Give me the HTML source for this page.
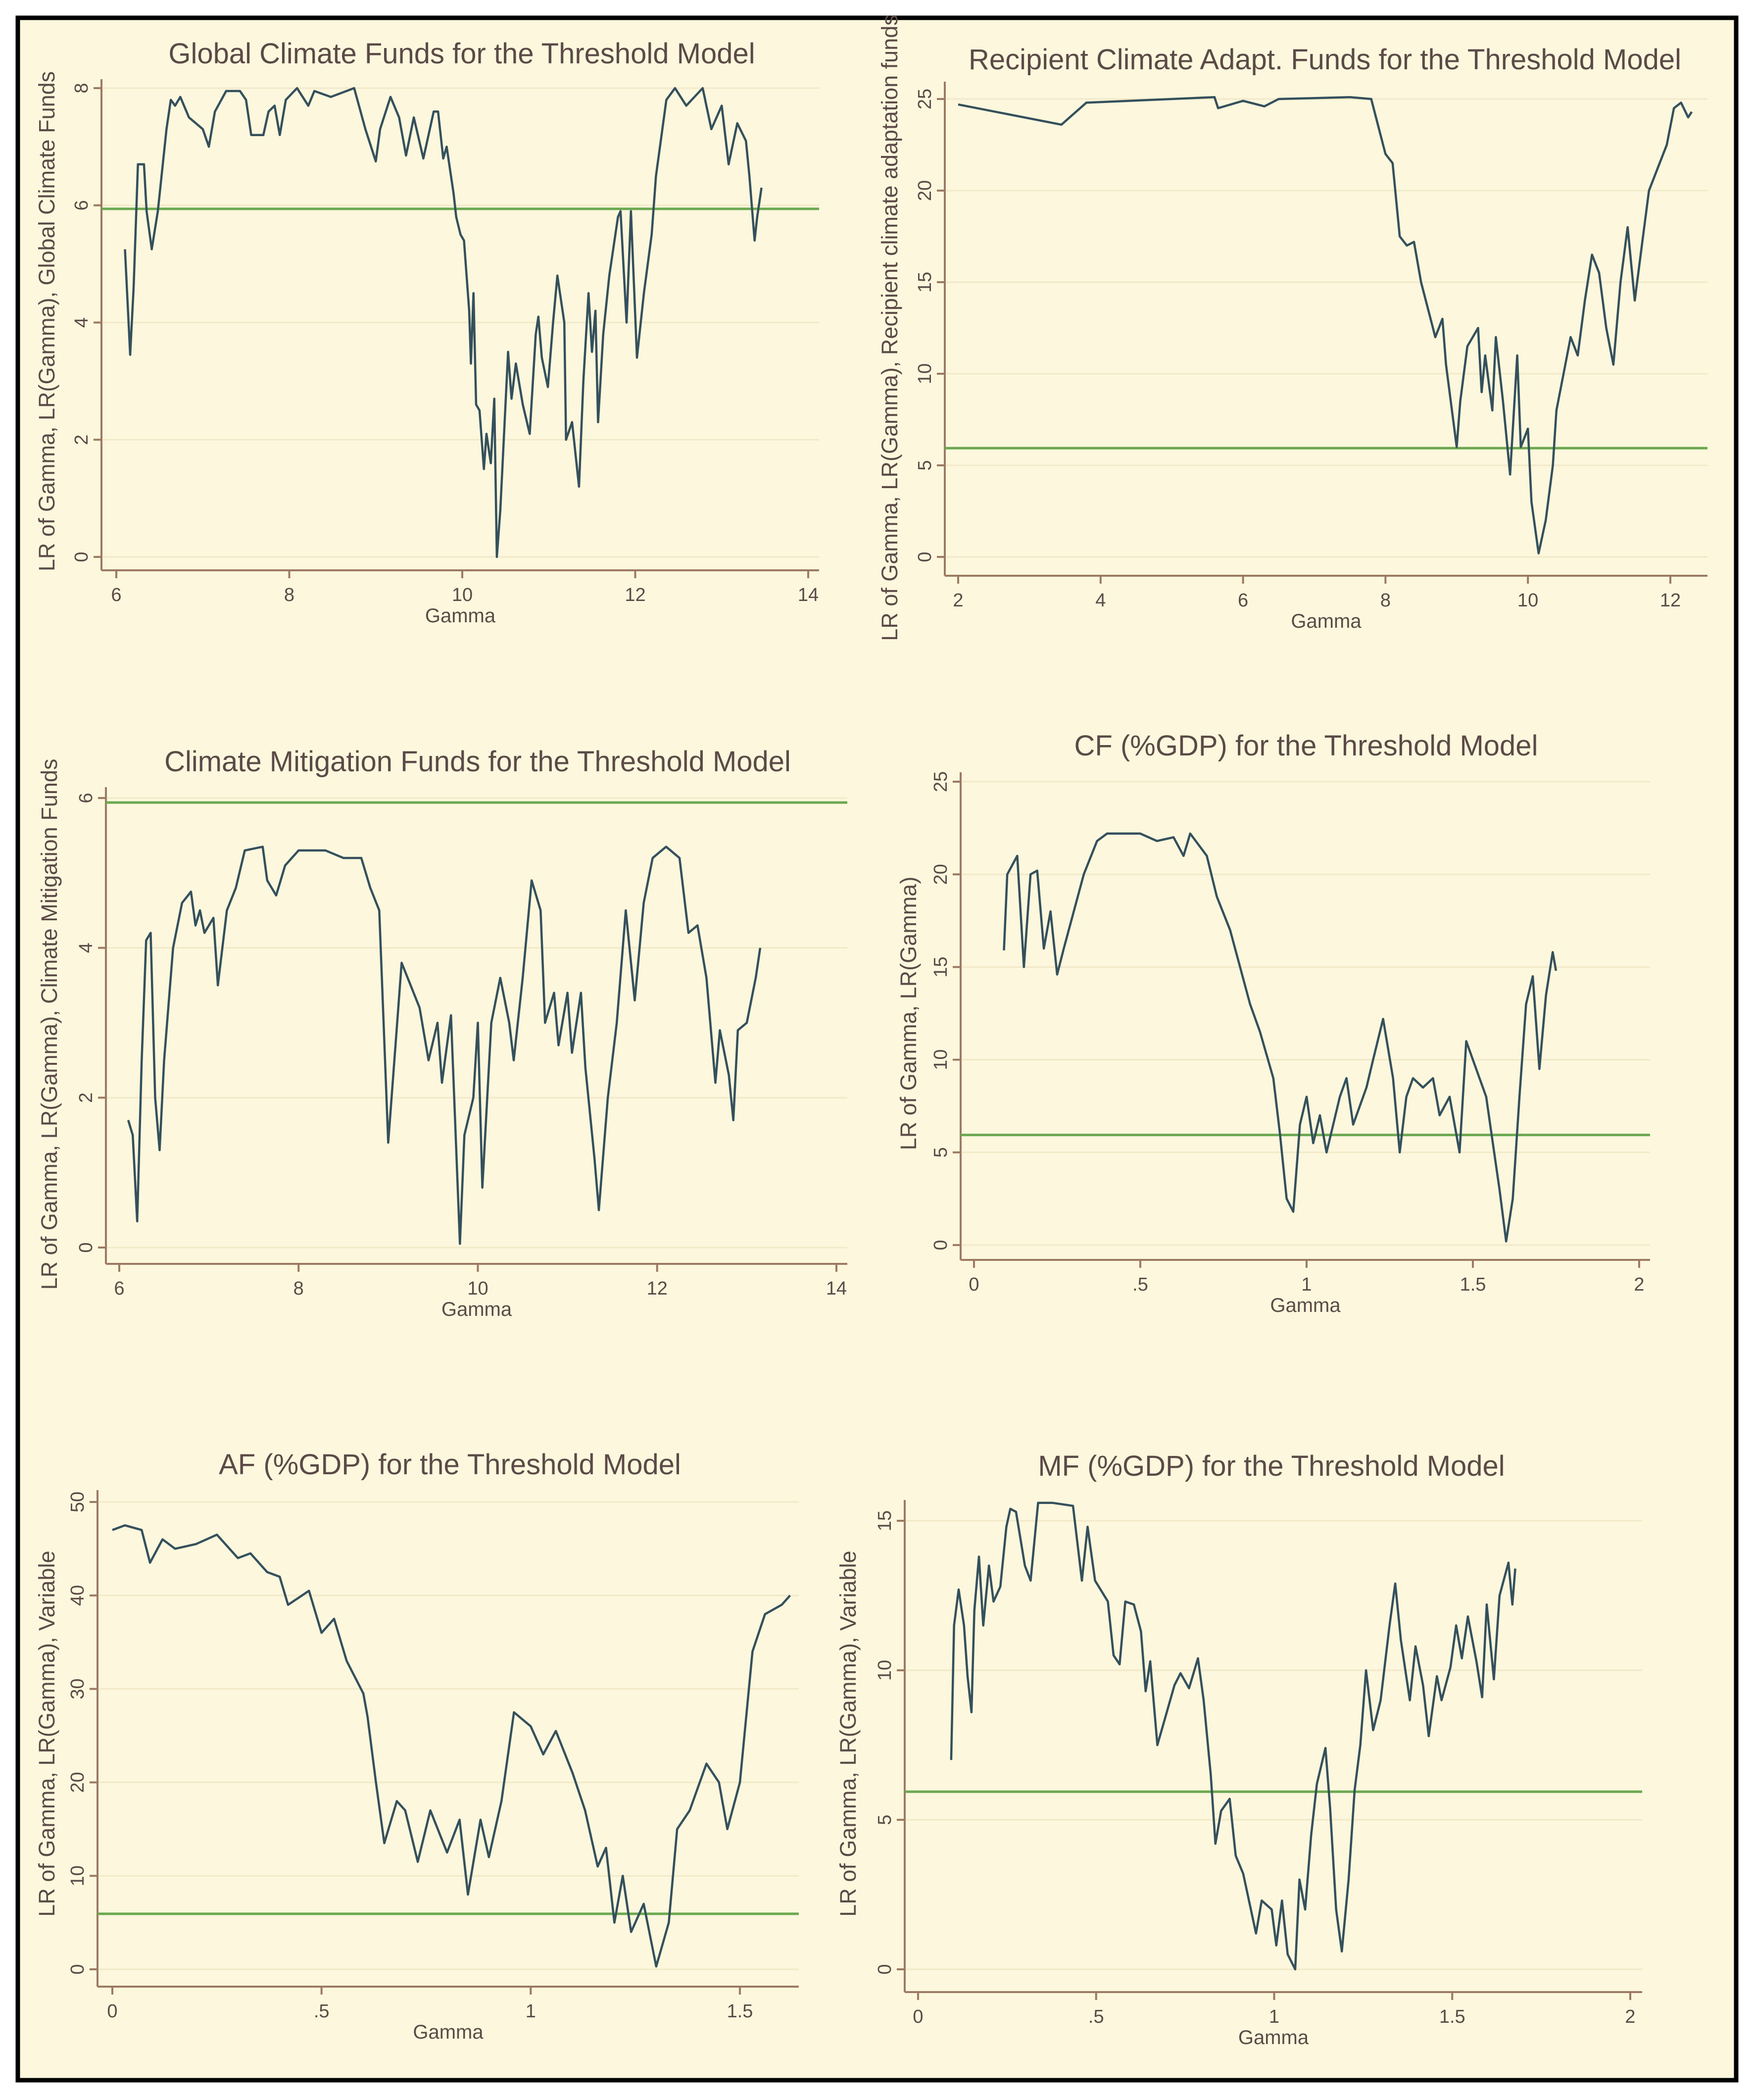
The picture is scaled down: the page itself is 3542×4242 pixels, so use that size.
<!DOCTYPE html>
<html><head><meta charset="utf-8">
<style>
html,body{margin:0;padding:0;background:#fff;}
#wrap{position:relative;width:3542px;height:4237px;background:#fff;}
svg text{font-family:"Liberation Sans",sans-serif;fill:#5b4a47;}
</style></head>
<body>
<div id="wrap">
<svg id="fig" width="3542" height="4237" viewBox="0 0 3542 4237" xmlns="http://www.w3.org/2000/svg">
<rect x="36" y="36" width="3472" height="4166" fill="#fcf7dd" stroke="#000" stroke-width="9"/>
</svg>
</div>
<script>
// ---- Panel 1: Global Climate Funds ----
const p1Gamma=[6.1,6.16,6.2,6.25,6.32,6.35,6.41,6.48,6.58,6.63,6.68,6.74,6.84,7.0,7.07,7.14,7.27,7.43,7.5,7.56,7.7,7.76,7.83,7.89,7.96,8.09,8.22,8.29,8.48,8.75,8.88,9.0,9.05,9.17,9.27,9.35,9.44,9.55,9.67,9.72,9.78,9.82,9.9,9.93,9.98,10.02,10.08,10.1,10.13,10.16,10.2,10.25,10.28,10.33,10.37,10.4,10.44,10.53,10.57,10.62,10.7,10.78,10.85,10.88,10.92,10.99,11.05,11.1,11.18,11.2,11.27,11.35,11.4,11.46,11.5,11.54,11.57,11.63,11.7,11.8,11.83,11.9,11.95,12.02,12.1,12.19,12.24,12.36,12.46,12.59,12.78,12.88,13.0,13.08,13.18,13.28,13.32,13.38,13.41,13.46];
const p1LR=[5.25,3.45,4.6,6.7,6.7,5.9,5.25,5.9,7.3,7.8,7.7,7.85,7.5,7.3,7.0,7.6,7.95,7.95,7.8,7.2,7.2,7.6,7.7,7.2,7.8,8.0,7.7,7.95,7.85,8.0,7.3,6.75,7.3,7.85,7.5,6.85,7.5,6.8,7.6,7.6,6.8,7.0,6.2,5.8,5.5,5.4,4.2,3.3,4.5,2.6,2.5,1.5,2.1,1.6,2.7,0.0,0.8,3.5,2.7,3.3,2.6,2.1,3.8,4.1,3.4,2.9,4.0,4.8,4.0,2.0,2.3,1.2,3.0,4.5,3.5,4.2,2.3,3.8,4.8,5.8,5.9,4.0,5.9,3.4,4.5,5.5,6.5,7.8,8.0,7.7,8.0,7.3,7.7,6.7,7.4,7.1,6.5,5.4,5.8,6.3];
// ---- Panel 2: Recipient Climate Adapt. Funds ----
const p2Gamma=[2.0,3.45,3.8,5.6,5.65,6.0,6.3,6.5,7.5,7.8,7.9,8.0,8.1,8.2,8.3,8.4,8.5,8.6,8.7,8.8,8.85,8.9,9.0,9.05,9.15,9.3,9.35,9.4,9.5,9.55,9.65,9.75,9.85,9.9,10.0,10.05,10.15,10.25,10.35,10.4,10.5,10.6,10.7,10.8,10.9,11.0,11.1,11.2,11.3,11.4,11.5,11.6,11.7,11.8,11.95,12.05,12.15,12.25,12.3];
const p2LR=[24.7,23.6,24.8,25.1,24.5,24.9,24.6,25.0,25.1,25.0,23.5,22.0,21.5,17.5,17.0,17.2,15.0,13.5,12.0,13.0,10.5,9.0,6.0,8.5,11.5,12.5,9.0,11.0,8.0,12.0,8.5,4.5,11.0,6.0,7.0,3.0,0.2,2.0,5.0,8.0,10.0,12.0,11.0,14.0,16.5,15.5,12.5,10.5,15.0,18.0,14.0,17.0,20.0,21.0,22.5,24.5,24.8,24.0,24.3];
// ---- Panel 3: Climate Mitigation Funds ----
const p3Gamma=[6.1,6.15,6.2,6.25,6.3,6.35,6.4,6.45,6.5,6.6,6.7,6.8,6.85,6.9,6.95,7.05,7.1,7.2,7.3,7.4,7.6,7.65,7.75,7.85,8.0,8.3,8.5,8.7,8.8,8.9,9.0,9.1,9.15,9.25,9.35,9.45,9.55,9.6,9.7,9.8,9.85,9.95,10.0,10.05,10.15,10.25,10.35,10.4,10.5,10.6,10.7,10.75,10.85,10.9,11.0,11.05,11.15,11.2,11.3,11.35,11.45,11.55,11.65,11.75,11.85,11.95,12.1,12.25,12.35,12.45,12.55,12.65,12.7,12.8,12.85,12.9,13.0,13.1,13.15];
const p3LR=[1.7,1.5,0.35,2.5,4.1,4.2,2.0,1.3,2.5,4.0,4.6,4.75,4.3,4.5,4.2,4.4,3.5,4.5,4.8,5.3,5.35,4.9,4.7,5.1,5.3,5.3,5.2,5.2,4.8,4.5,1.4,3.0,3.8,3.5,3.2,2.5,3.0,2.2,3.1,0.05,1.5,2.0,3.0,0.8,3.0,3.6,3.0,2.5,3.6,4.9,4.5,3.0,3.4,2.7,3.4,2.6,3.4,2.4,1.2,0.5,2.0,3.0,4.5,3.3,4.6,5.2,5.35,5.2,4.2,4.3,3.6,2.2,2.9,2.3,1.7,2.9,3.0,3.6,4.0];
// ---- Panel 4: CF (%GDP) ----
const p4Gamma=[0.09,0.1,0.13,0.15,0.17,0.19,0.21,0.23,0.25,0.27,0.3,0.33,0.37,0.4,0.5,0.55,0.6,0.63,0.65,0.7,0.73,0.77,0.8,0.83,0.86,0.9,0.92,0.94,0.96,0.98,1.0,1.02,1.04,1.06,1.08,1.1,1.12,1.14,1.18,1.2,1.23,1.26,1.28,1.3,1.32,1.35,1.38,1.4,1.43,1.46,1.48,1.51,1.54,1.56,1.58,1.6,1.62,1.64,1.66,1.68,1.7,1.72,1.74,1.75];
const p4LR=[15.9,20.0,21.0,15.0,20.0,20.2,16.0,18.0,14.6,16.0,18.0,20.0,21.8,22.2,22.2,21.8,22.0,21.0,22.2,21.0,18.8,17.0,15.0,13.0,11.5,9.0,6.0,2.5,1.8,6.5,8.0,5.5,7.0,5.0,6.5,8.0,9.0,6.5,8.5,10.0,12.2,9.0,5.0,8.0,9.0,8.5,9.0,7.0,8.0,5.0,11.0,9.5,8.0,5.5,3.0,0.2,2.5,8.0,13.0,14.5,9.5,13.5,15.8,14.8];
// ---- Panel 5: AF (%GDP) ----
const p5Gamma=[0.0,0.03,0.07,0.09,0.12,0.15,0.2,0.25,0.3,0.33,0.37,0.4,0.42,0.47,0.5,0.53,0.56,0.6,0.61,0.63,0.65,0.68,0.7,0.73,0.76,0.8,0.83,0.85,0.88,0.9,0.93,0.96,1.0,1.03,1.06,1.1,1.13,1.16,1.18,1.2,1.22,1.24,1.27,1.3,1.33,1.35,1.38,1.42,1.45,1.47,1.5,1.53,1.56,1.6,1.62];
const p5LR=[47,47.5,47,43.5,46,45,45.5,46.5,44,44.5,42.5,42,39,40.5,36,37.5,33,29.5,27,20,13.5,18,17,11.5,17,12.5,16,8,16,12,18,27.5,26,23,25.5,21,17,11,13,5,10,4,7,0.3,5,15,17,22,20,15,20,34,38,39,40];
// ---- Panel 6: MF (%GDP) ----
const p6Gamma=[0.093,0.101,0.114,0.129,0.139,0.15,0.158,0.171,0.183,0.199,0.212,0.231,0.248,0.259,0.275,0.3,0.316,0.337,0.378,0.435,0.46,0.476,0.497,0.533,0.549,0.566,0.582,0.606,0.626,0.639,0.652,0.672,0.696,0.72,0.737,0.761,0.786,0.802,0.822,0.835,0.851,0.875,0.892,0.913,0.949,0.965,0.993,1.006,1.022,1.038,1.059,1.071,1.087,1.104,1.12,1.144,1.157,1.174,1.19,1.209,1.226,1.242,1.258,1.278,1.299,1.324,1.34,1.356,1.381,1.397,1.418,1.434,1.457,1.47,1.495,1.511,1.527,1.544,1.568,1.584,1.597,1.617,1.633,1.658,1.669,1.677];
const p6LR=[7,11.5,12.7,11.5,9.8,8.6,12,13.8,11.5,13.5,12.3,12.8,14.8,15.4,15.3,13.5,13,15.6,15.6,15.5,13,14.8,13,12.3,10.5,10.2,12.3,12.2,11.3,9.3,10.3,7.5,8.5,9.5,9.9,9.4,10.4,9,6.5,4.2,5.3,5.7,3.8,3.2,1.2,2.3,2,0.8,2.3,0.5,0,3,2,4.5,6.2,7.4,5.4,2,0.6,3,6,7.5,10,8,9,11.5,12.9,11,9,10.8,9.5,7.8,9.8,9,10.1,11.5,10.4,11.8,10.3,9.1,12.2,9.7,12.5,13.6,12.2,13.4];
// ---- tick labels & critical value ----
const p1XTicks=[6,8,10,12,14], p1YTicks=[0,2,4,6,8];
const p2XTicks=[2,4,6,8,10,12], p2YTicks=[0,5,10,15,20,25];
const p3XTicks=[6,8,10,12,14], p3YTicks=[0,2,4,6];
const p4XTicks=[0,0.5,1,1.5,2], p4YTicks=[0,5,10,15,20,25];
const p5XTicks=[0,0.5,1,1.5], p5YTicks=[0,10,20,30,40,50];
const p6XTicks=[0,0.5,1,1.5,2], p6YTicks=[0,5,10,15];
const criticalValue=[5.94];

const NS="http://www.w3.org/2000/svg";
const svg=document.getElementById('fig');
function mk(tag,attrs,parent){const e=document.createElementNS(NS,tag);for(const k in attrs)e.setAttribute(k,attrs[k]);(parent||svg).appendChild(e);return e;}
function fmt(v){if(v===0)return '0';let s=String(v);if(s.startsWith('0.'))s=s.slice(1);return s;}

const panels=[
 {id:'global',title:'Global Climate Funds for the Threshold Model',ylab:'LR of Gamma, LR(Gamma), Global Climate Funds',
  gx:p1Gamma,gy:p1LR,xt:p1XTicks,yt:p1YTicks,x0:6,x1:14,px0:235,px1:1633,y0:0,y1:8,py0:1125,py1:178,left:205,bottom:1152,right:1655,top:160,tx:933,ty:128,ylx:110,yly:649,fs:58},
 {id:'recipient',title:'Recipient  Climate Adapt. Funds for the Threshold Model',ylab:'LR of Gamma, LR(Gamma), Recipient climate adaptation funds',
  gx:p2Gamma,gy:p2LR,xt:p2XTicks,yt:p2YTicks,x0:2,x1:12,px0:1936,px1:3375,y0:0,y1:25,py0:1125,py1:200,left:1909,bottom:1163,right:3450,top:165,tx:2677,ty:140,ylx:1813,yly:662,fs:58},
 {id:'mitigation',title:'Climate Mitigation Funds  for the Threshold Model',ylab:'LR of Gamma, LR(Gamma), Climate Mitigation Funds',
  gx:p3Gamma,gy:p3LR,xt:p3XTicks,yt:p3YTicks,x0:6,x1:14,px0:241,px1:1690,y0:0,y1:6,py0:2520,py1:1612,left:214,bottom:2553,right:1712,top:1590,tx:965,ty:1558,ylx:115,yly:2069,fs:58},
 {id:'cf-gdp',title:'CF (%GDP)  for the Threshold Model',ylab:'LR of Gamma, LR(Gamma)',
  gx:p4Gamma,gy:p4LR,xt:p4XTicks,yt:p4YTicks,x0:0,x1:2,px0:1968,px1:3312,y0:0,y1:25,py0:2515,py1:1579,left:1941,bottom:2545,right:3334,top:1560,tx:2639,ty:1526,ylx:1851,yly:2047,fs:58},
 {id:'af-gdp',title:'AF (%GDP) for the Threshold Model',ylab:'LR of Gamma, LR(Gamma), Variable',
  gx:p5Gamma,gy:p5LR,xt:p5XTicks,yt:p5YTicks,x0:0,x1:1.5,px0:227,px1:1495,y0:0,y1:50,py0:3978,py1:3034,left:197,bottom:4013,right:1614,top:3010,tx:909,ty:2978,ylx:110,yly:3502,fs:58},
 {id:'mf-gdp',title:'MF (%GDP)  for the Threshold Model',ylab:'LR of Gamma, LR(Gamma), Variable',
  gx:p6Gamma,gy:p6LR,xt:p6XTicks,yt:p6YTicks,x0:0,x1:2,px0:1855,px1:3294,y0:0,y1:15,py0:3978,py1:3072,left:1828,bottom:4024,right:3318,top:3030,tx:2569,ty:2981,ylx:1729,yly:3502,fs:58}
];

panels.forEach(p=>{
 const g=mk('g',{});
 
 
 const X=v=>p.px0+(v-p.x0)*(p.px1-p.px0)/(p.x1-p.x0);
 const Y=v=>p.py0+(v-p.y0)*(p.py1-p.py0)/(p.y1-p.y0);
 p.yt.forEach(t=>{const l=mk('line',{x1:p.left,x2:p.right,y1:Y(t),y2:Y(t),stroke:'#f2e9c9','stroke-width':3},g);
  
  });
 const ax=mk('line',{x1:p.left,x2:p.left,y1:p.top,y2:p.bottom,stroke:'#9c7a63','stroke-width':4},g);
 
 
 const bx=mk('line',{x1:p.left,x2:p.right,y1:p.bottom,y2:p.bottom,stroke:'#9c7a63','stroke-width':4},g);
 
 
 p.xt.forEach(t=>{
  const x=X(t);
  const tk=mk('line',{x1:x,x2:x,y1:p.bottom,y2:p.bottom+16,stroke:'#9c7a63','stroke-width':4},g);
  
  
  const tl=mk('text',{x:x,y:p.bottom+62,'font-size':38,'text-anchor':'middle'},g);
  tl.textContent=fmt(t);
  
  
 });
 p.yt.forEach(t=>{
  const y=Y(t);
  const tk=mk('line',{x1:p.left-16,x2:p.left,y1:y,y2:y,stroke:'#9c7a63','stroke-width':4},g);
  
  
  const tl=mk('text',{x:p.left-28,y:y,'font-size':38,'text-anchor':'middle',transform:`rotate(-90 ${p.left-28} ${y})`},g);
  tl.textContent=fmt(t);
  
  
 });
 const cv=mk('line',{x1:p.left,x2:p.right,y1:Y(criticalValue[0]),y2:Y(criticalValue[0]),stroke:'#6aa84f','stroke-width':5},g);
 
 
 const d=p.gx.map((v,i)=>(i?'L':'M')+X(v).toFixed(1)+' '+Y(p.gy[i]).toFixed(1)).join(' ');
 const path=mk('path',{d:d,fill:'none',stroke:'#34505c','stroke-width':4.5,'stroke-linejoin':'round'},g);
 
 
 const tt=mk('text',{x:p.tx,y:p.ty,'font-size':p.fs,'text-anchor':'middle'},g);
 tt.textContent=p.title;
 
 
 const xl=mk('text',{x:(p.left+p.right)/2,y:p.bottom+105,'font-size':40,'text-anchor':'middle'},g);
 xl.textContent='Gamma';
 
 
 const yl=mk('text',{x:p.ylx,y:p.yly,'font-size':45,'text-anchor':'middle',transform:`rotate(-90 ${p.ylx} ${p.yly})`},g);
 yl.textContent=p.ylab;
 
 
});
</script>
</body></html>
